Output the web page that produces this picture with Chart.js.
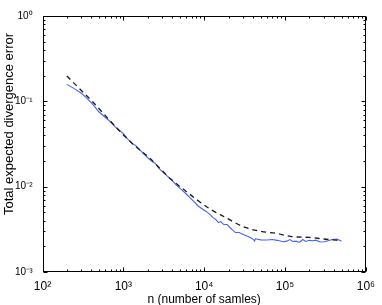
<!DOCTYPE html>
<html><head><meta charset="utf-8">
<script src="https://cdn.jsdelivr.net/npm/chart.js@4/dist/chart.umd.min.js"></script>
<style>html,body{margin:0;padding:0;background:#fff}canvas{display:block}</style>
</head><body>
<canvas id="c" width="382" height="305"></canvas>
<script>
const xTickExponents = [2, 3, 4, 5, 6];
const yTickExponents = [-3, -2, -1, 0];
const xAxisTitle = 'n (number of samles)';
const yAxisTitle = 'Total expected divergence error';

const samplesN = [200, 250, 300, 350, 398, 450, 500, 665, 800, 1000, 1165, 1300, 1410, 1600, 1800, 2050, 2300, 2470, 2800, 3200, 3930, 4500, 5200, 6000, 7000, 7570, 8500, 10000, 11000, 12100, 13000, 14000, 15000, 16000, 17500, 19300, 21000, 22500, 24400, 27000, 29000, 32000, 35000, 38000, 40700, 42000, 43000, 50000, 60000, 70000, 80000, 95000, 105000, 115000, 125000, 137000, 150000, 166000, 180000, 200000, 220000, 241000, 270000, 304000, 340000, 384000, 440000, 500000];
const samplesErr = [0.158, 0.14, 0.125, 0.11, 0.097, 0.085, 0.075, 0.0596, 0.05, 0.0418, 0.035, 0.0315, 0.0306, 0.027, 0.024, 0.0214, 0.0195, 0.0188, 0.0162, 0.0143, 0.0121, 0.0105, 0.0093, 0.0082, 0.0071, 0.0066, 0.0059, 0.0053, 0.0050, 0.0046, 0.0043, 0.0041, 0.0038, 0.0039, 0.0036, 0.0036, 0.0033, 0.0031, 0.0029, 0.0029, 0.0028, 0.0027, 0.0026, 0.0025, 0.0024, 0.0023, 0.00245, 0.00238, 0.00237, 0.0024, 0.00235, 0.00226, 0.0023, 0.0024, 0.00228, 0.0023, 0.00222, 0.0024, 0.00228, 0.00235, 0.00232, 0.00236, 0.00225, 0.00226, 0.00232, 0.0024, 0.00243, 0.0023];

const boundN = [200, 300, 416, 600, 966, 1400, 2050, 3000, 3930, 6000, 8000, 12100, 18000, 30800, 50000, 78300, 120000, 200000, 320000, 500000];
const boundErr = [0.198, 0.135, 0.099, 0.068, 0.0418, 0.030, 0.0222, 0.0155, 0.0121, 0.0088, 0.0071, 0.0054, 0.0044, 0.00338, 0.0030, 0.00283, 0.0026, 0.00254, 0.00242, 0.00233];

const SUP = {'-':'\u207B','0':'\u2070','1':'\u00B9','2':'\u00B2','3':'\u00B3','4':'\u2074','5':'\u2075','6':'\u2076','7':'\u2077','8':'\u2078','9':'\u2079'};
function pow10Label(e){ return '10' + String(e).split('').map(c=>SUP[c]).join(''); }

const FONT = "'Liberation Sans', Arial, Helvetica, sans-serif";

const boxTicks = {
  id: 'boxTicks',
  afterDraw(chart){
    const ctx = chart.ctx, a = chart.chartArea;
    const xs = chart.scales.x, ys = chart.scales.y;
    ctx.save();
    ctx.strokeStyle = '#000';
    ctx.lineWidth = 1;
    const L = Math.round(a.left)+0.5, R = Math.round(a.right)-0.5, T = Math.round(a.top)+0.5, B = Math.round(a.bottom)-0.5;
    ctx.strokeRect(L, T, R-L, B-T);
    ctx.beginPath();
    for (let e = xTickExponents[0]; e <= xTickExponents[xTickExponents.length-1]; e++){
      for (let m = 1; m <= 9; m++){
        const v = m*Math.pow(10,e);
        if (v > xs.max*1.0001) break;
        const px = Math.round(xs.getPixelForValue(v))+0.5;
        const len = m===1 ? 4 : 2;
        ctx.moveTo(px, B); ctx.lineTo(px, B-len);
        ctx.moveTo(px, T); ctx.lineTo(px, T+len);
      }
    }
    for (let e = yTickExponents[0]; e <= yTickExponents[yTickExponents.length-1]; e++){
      for (let m = 1; m <= 9; m++){
        const v = m*Math.pow(10,e);
        if (v > ys.max*1.0001) break;
        const py = Math.round(ys.getPixelForValue(v))+0.5;
        const len = m===1 ? 4 : 2;
        ctx.moveTo(L, py); ctx.lineTo(L+len, py);
        ctx.moveTo(R, py); ctx.lineTo(R-len, py);
      }
    }
    ctx.stroke();
    // y axis title
    ctx.fillStyle = '#000';
    ctx.font = '13px ' + FONT;
    ctx.translate(12.5, 124);
    ctx.rotate(-Math.PI/2);
    ctx.textAlign = 'center';
    ctx.textBaseline = 'alphabetic';
    ctx.fillText(yAxisTitle, 0, 0);
    ctx.restore();
  }
};

new Chart(document.getElementById('c'), {
  type: 'scatter',
  data: {
    datasets: [
      {
        label: 'empirical',
        data: samplesN.map((n,i)=>({x:n, y:samplesErr[i]})),
        showLine: true, borderColor: '#4563f2', borderWidth: 1.1,
        pointRadius: 0, tension: 0, order: 2
      },
      {
        label: 'bound',
        data: boundN.map((n,i)=>({x:n, y:boundErr[i]})),
        showLine: true, borderColor: '#1a1a1a', borderWidth: 1.3, borderDash: [5, 4],
        pointRadius: 0, tension: 0.4, cubicInterpolationMode: 'monotone', order: 1
      }
    ]
  },
  options: {
    responsive: false,
    animation: false,
    devicePixelRatio: 1,
    layout: { padding: { top: 12, right: 11, left: 0, bottom: 0 } },
    plugins: { legend: { display: false }, tooltip: { enabled: false } },
    scales: {
      x: {
        type: 'logarithmic', min: 100, max: 1e6,
        afterBuildTicks(s){ s.ticks = xTickExponents.map(e=>({value: Math.pow(10,e)})); },
        afterFit(s){ s.height = 33; },
        grid: { display: false, drawTicks: false },
        border: { display: false },
        ticks: {
          autoSkip: false, maxRotation: 0, padding: 7, color: '#000',
          font: { family: FONT, size: 12 },
          callback(v){ return pow10Label(Math.round(Math.log10(v))); }
        },
        title: { display: true, text: xAxisTitle, color: '#000', font: { family: FONT, size: 12 }, padding: { top: 0, bottom: -2 } }
      },
      y: {
        type: 'logarithmic', min: 1e-3, max: 1,
        afterBuildTicks(s){ s.ticks = yTickExponents.map(e=>({value: Math.pow(10,e)})); },
        afterFit(s){ s.width = 42.5; },
        grid: { display: false, drawTicks: false },
        border: { display: false },
        ticks: {
          autoSkip: false, padding: 10, color: '#000',
          font: { family: FONT, size: 10 },
          callback(v){ return pow10Label(Math.round(Math.log10(v))); }
        }
      }
    }
  },
  plugins: [boxTicks]
});
</script>
</body></html>
